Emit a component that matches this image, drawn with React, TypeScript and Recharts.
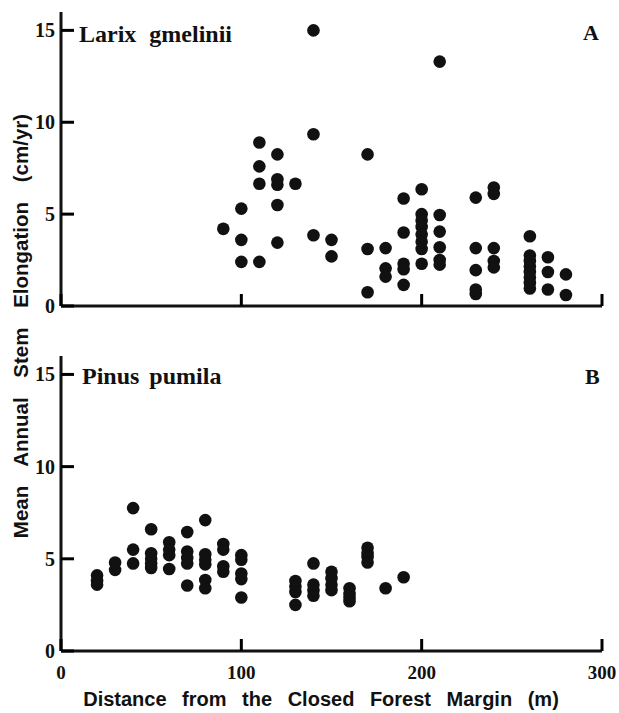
import React from "react";
import { ScatterChart, Scatter, XAxis, YAxis } from "recharts";

// Panel A: Larix gmelinii
const larixDistance = [
  90,
  100, 100, 100,
  110, 110, 110, 110,
  120, 120, 120, 120, 120,
  130,
  140, 140, 140,
  150, 150,
  170, 170, 170,
  180, 180, 180,
  190, 190, 190, 190, 190,
  200, 200, 200, 200, 200, 200, 200, 200,
  210, 210, 210, 210, 210, 210,
  230, 230, 230, 230, 230,
  240, 240, 240, 240, 240,
  260, 260, 260, 260, 260, 260, 260, 260,
  270, 270, 270,
  280, 280,
];
const larixElongation = [
  4.2,
  5.3, 3.6, 2.4,
  8.9, 7.6, 6.65, 2.4,
  8.25, 6.9, 6.6, 5.5, 3.45,
  6.65,
  15.0, 9.35, 3.85,
  3.6, 2.7,
  8.25, 3.1, 0.75,
  3.15, 2.05, 1.6,
  5.85, 4.0, 2.3, 2.0, 1.15,
  6.35, 5.0, 4.65, 4.3, 3.9, 3.5, 3.1, 2.3,
  13.3, 4.95, 4.05, 3.2, 2.5, 2.25,
  5.9, 3.15, 1.95, 0.9, 0.65,
  6.45, 6.1, 3.15, 2.45, 2.1,
  3.8, 2.75, 2.45, 2.15, 1.85, 1.55, 1.25, 0.95,
  2.65, 1.85, 0.9,
  1.72, 0.6,
];

// Panel B: Pinus pumila
const pinusDistance = [
  20, 20, 20,
  30, 30,
  40, 40, 40,
  50, 50, 50, 50, 50,
  60, 60, 60, 60,
  70, 70, 70, 70, 70,
  80, 80, 80, 80, 80, 80,
  90, 90, 90, 90,
  100, 100, 100, 100, 100,
  130, 130, 130, 130,
  140, 140, 140, 140,
  150, 150, 150, 150,
  160, 160, 160, 160,
  170, 170, 170, 170,
  180,
  190,
];
const pinusElongation = [
  4.1, 3.8, 3.6,
  4.8, 4.4,
  7.75, 5.5, 4.75,
  6.6, 5.3, 5.0, 4.75, 4.5,
  5.9, 5.5, 5.2, 4.45,
  6.45, 5.4, 5.05, 4.75, 3.55,
  7.1, 5.25, 4.95, 4.7, 3.85, 3.4,
  5.8, 5.5, 4.6, 4.3,
  5.2, 4.95, 4.2, 3.9, 2.9,
  3.8, 3.5, 3.2, 2.5,
  4.75, 3.6, 3.3, 3.0,
  4.3, 3.95, 3.6, 3.3,
  3.4, 3.1, 2.9, 2.7,
  5.6, 5.3, 5.1, 4.8,
  3.4,
  4.0,
];

const xTicks = [0, 100, 200, 300];
const yTicks = [0, 5, 10, 15];

const larixData = larixDistance.map((x, i) => ({ x, y: larixElongation[i] }));
const pinusData = pinusDistance.map((x, i) => ({ x, y: pinusElongation[i] }));

const INK = "#000000";
const SERIF = "'Liberation Serif', 'Times New Roman', serif";
const SANS = "'Liberation Sans', Arial, sans-serif";

const Dot = (props: any) => {
  const { cx, cy } = props;
  if (cx == null || cy == null) return null;
  return <circle cx={cx} cy={cy} r={6.3} fill="#111" />;
};

// x tick: inward mark (+ label in the lower panel)
const XTickA = (props: any) => {
  const { x, y } = props;
  const px = Number(x);
  const py = Number(y);
  return (
    <g>
      <path d={`M${px},${py}L${px},${py - 12}`} stroke={INK} strokeWidth={3} fill="none" />
    </g>
  );
};
const XTickB = (props: any) => {
  const { x, y, payload } = props;
  const px = Number(x);
  const py = Number(y);
  return (
    <g>
      <path d={`M${px},${py}L${px},${py - 12}`} stroke={INK} strokeWidth={3} fill="none" />
      <text
        x={px}
        y={py + 28}
        textAnchor="middle"
        fontFamily={SERIF}
        fontWeight="bold"
        fontSize={19}
        fill="#111"
      >
        {payload.value}
      </text>
    </g>
  );
};

const YTick = (props: any) => {
  const { x, y, payload } = props;
  const px = Number(x);
  const py = Number(y);
  return (
    <g>
      <path d={`M${px},${py}L${px + 13},${py}`} stroke={INK} strokeWidth={3} fill="none" />
      <text
        x={px - 6}
        y={py + 7}
        textAnchor="end"
        fontFamily={SERIF}
        fontWeight="bold"
        fontSize={20}
        fill="#111"
      >
        {payload.value}
      </text>
    </g>
  );
};

const axisLine = { stroke: "#111", strokeWidth: 3 };

export default function App() {
  return (
    <div
      style={{
        position: "absolute",
        left: 0,
        top: 0,
        width: 619,
        height: 713,
        background: "#fff",
      }}
    >
      <div style={{ position: "absolute", left: 0, top: 0 }}>
        <ScatterChart
          width={619}
          height={330}
          margin={{ top: 12, right: 17, bottom: 23, left: 0 }}
        >
          <XAxis
            type="number"
            dataKey="x"
            domain={[0, 300]}
            ticks={xTicks}
            height={1}
            tickSize={0}
            tickMargin={0}
            axisLine={axisLine}
            tick={XTickA}
          />
          <YAxis
            type="number"
            dataKey="y"
            domain={[0, 16]}
            ticks={yTicks}
            width={61}
            tickSize={0}
            tickMargin={0}
            axisLine={axisLine}
            tick={YTick}
          />
          <Scatter data={larixData} shape={Dot} isAnimationActive={false} />
        </ScatterChart>
      </div>
      <div style={{ position: "absolute", left: 0, top: 330 }}>
        <ScatterChart
          width={619}
          height={383}
          margin={{ top: 26, right: 17, bottom: 0, left: 0 }}
        >
          <XAxis
            type="number"
            dataKey="x"
            domain={[0, 300]}
            ticks={xTicks}
            height={62}
            tickSize={0}
            tickMargin={0}
            axisLine={axisLine}
            tick={XTickB}
          />
          <YAxis
            type="number"
            dataKey="y"
            domain={[0, 16]}
            ticks={yTicks}
            width={61}
            tickSize={0}
            tickMargin={0}
            axisLine={axisLine}
            tick={YTick}
          />
          <Scatter data={pinusData} shape={Dot} isAnimationActive={false} />
        </ScatterChart>
      </div>
      <svg
        width={619}
        height={713}
        style={{ position: "absolute", left: 0, top: 0, pointerEvents: "none" }}
      >
        <text
          x={79}
          y={42}
          fontFamily={SERIF}
          fontWeight="bold"
          fontSize={24}
          fill="#111"
          wordSpacing={7}
        >
          Larix gmelinii
        </text>
        <text x={583} y={40} fontFamily={SERIF} fontWeight="bold" fontSize={22} fill="#111">
          A
        </text>
        <text
          x={82}
          y={384}
          fontFamily={SERIF}
          fontWeight="bold"
          fontSize={24}
          fill="#111"
          wordSpacing={4}
        >
          Pinus pumila
        </text>
        <text x={585} y={384} fontFamily={SERIF} fontWeight="bold" fontSize={22} fill="#111">
          B
        </text>
        <text
          transform="translate(28,326) rotate(-90)"
          textAnchor="middle"
          fontFamily={SANS}
          fontWeight="bold"
          fontSize={20.5}
          fill="#111"
          wordSpacing={14}
        >
          Mean Annual Stem Elongation (cm/yr)
        </text>
        <text
          x={321}
          y={706}
          textAnchor="middle"
          fontFamily={SANS}
          fontWeight="bold"
          fontSize={20}
          fill="#111"
          wordSpacing={10}
        >
          Distance from the Closed Forest Margin (m)
        </text>
      </svg>
    </div>
  );
}
